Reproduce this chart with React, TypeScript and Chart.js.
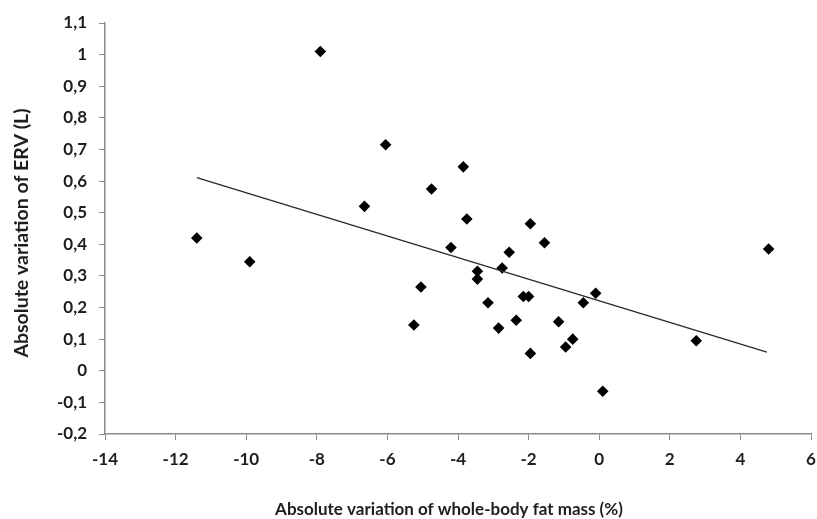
import React, { useEffect, useRef } from "react";
import { Chart, registerables } from "chart.js";

Chart.register(...registerables);

const fatMassX = [-11.4, -9.9, -7.9, -6.05, -6.65, -4.75, -3.85, -3.75, -1.95, -1.55, -4.2, -2.55, -3.45, -3.45, -2.75, -5.05, -5.25, -3.15, -2.15, -2.0, -2.85, -2.35, -1.95, -1.15, -0.75, -0.95, -0.45, -0.1, 0.1, 2.75, 4.8];
const ervY = [0.42, 0.345, 1.01, 0.715, 0.52, 0.575, 0.645, 0.48, 0.465, 0.405, 0.39, 0.375, 0.315, 0.29, 0.325, 0.265, 0.145, 0.215, 0.235, 0.235, 0.135, 0.16, 0.055, 0.155, 0.1, 0.075, 0.215, 0.245, -0.065, 0.095, 0.385];
const trendX = [-11.4, 4.75];
const trendY = [0.611, 0.059];
const xTicks = [-14, -12, -10, -8, -6, -4, -2, 0, 2, 4, 6];
const yTicks = [-0.2, -0.1, 0, 0.1, 0.2, 0.3, 0.4, 0.5, 0.6, 0.7, 0.8, 0.9, 1, 1.1];
const xTitle = "Absolute variation of whole-body fat mass (%)";
const yTitle = "Absolute variation of ERV (L)";

const fmt = (v: number) => String(Math.round(v * 10) / 10).replace(".", ",");

const textColor = "#1e1e1e";
const axisColor = "#8c8c8c";

const titlesPlugin = {
  id: "customTitles",
  afterDraw(chart: any) {
    const ctx = chart.ctx as CanvasRenderingContext2D;
    ctx.save();
    ctx.fillStyle = textColor;
    ctx.textAlign = "center";
    ctx.textBaseline = "alphabetic";
    ctx.font = "bold 17px Lato";
    ctx.fillText(xTitle, 449, 515);
    ctx.font = "bold 19.5px Lato";
    ctx.translate(28, 233);
    ctx.rotate(-Math.PI / 2);
    ctx.fillText(yTitle, 0, 0);
    ctx.restore();
  },
};

export default function App() {
  const ref = useRef<HTMLCanvasElement | null>(null);
  useEffect(() => {
    if (!ref.current) return;
    const font = { family: "Lato", weight: "bold" as const, size: 17 };
    const chart = new Chart(ref.current, {
      type: "scatter",
      data: {
        datasets: [
          {
            type: "line",
            data: trendX.map((x, i) => ({ x, y: trendY[i] })),
            borderColor: "#2a2a2a",
            borderWidth: 1.3,
            pointRadius: 0,
            fill: false,
          },
          {
            data: fatMassX.map((x, i) => ({ x, y: ervY[i] })),
            pointStyle: "rectRot",
            pointRadius: 5.8,
            backgroundColor: "#000000",
            borderColor: "#000000",
            borderWidth: 0,
          },
        ],
      },
      options: {
        responsive: false,
        animation: false,
        layout: { padding: { left: 0, top: 23, right: 6, bottom: 0 } },
        plugins: { legend: { display: false }, tooltip: { enabled: false } },
        scales: {
          x: {
            type: "linear",
            min: -14,
            max: 6,
            afterBuildTicks: (s: any) => {
              s.ticks = xTicks.map((v) => ({ value: v }));
            },
            afterFit: (s: any) => {
              s.height = 85;
              s.paddingLeft = 0;
              s.paddingRight = 0;
            },
            grid: { display: true, drawOnChartArea: false, drawTicks: true, tickLength: 6, color: axisColor },
            border: { display: true, color: axisColor, width: 1.5 },
            ticks: { color: textColor, font, padding: 9, callback: (v: any) => fmt(Number(v)), maxRotation: 0 },
            title: { display: false },
          },
          y: {
            type: "linear",
            min: -0.2,
            max: 1.1,
            afterBuildTicks: (s: any) => {
              s.ticks = yTicks.map((v) => ({ value: v }));
            },
            afterFit: (s: any) => {
              s.width = 105;
              s.paddingTop = 0;
              s.paddingBottom = 0;
            },
            grid: { display: true, drawOnChartArea: false, drawTicks: true, tickLength: 6, color: axisColor },
            border: { display: true, color: axisColor, width: 1.5 },
            ticks: { color: textColor, font, padding: 12, callback: (v: any) => fmt(Number(v)) },
            title: { display: false },
          },
        },
      },
      plugins: [titlesPlugin],
    });
    return () => chart.destroy();
  }, []);
  return (
    <div style={{ position: "fixed", left: 0, top: 0, width: 817, height: 519, background: "#fff" }}>
      <canvas ref={ref} width={817} height={519} style={{ width: 817, height: 519 }} />
    </div>
  );
}
